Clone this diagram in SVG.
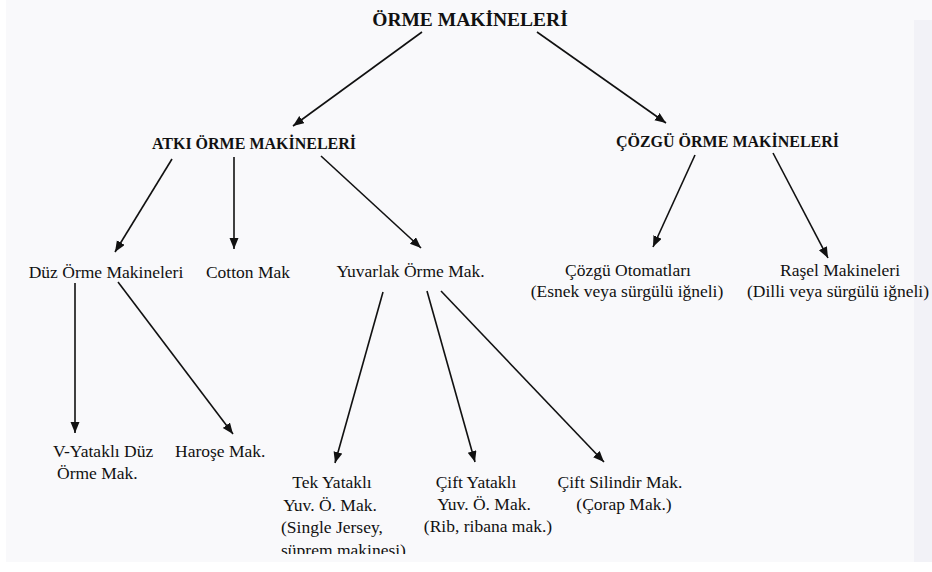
<svg xmlns="http://www.w3.org/2000/svg" width="932" height="572" viewBox="0 0 932 572">
  <style>
    .t { font-family: 'Liberation Serif', 'Tinos', 'DejaVu Serif', serif; fill: #111; }
    .h { font-weight: bold; }
    .r { font-size: 17.5px; }
    .c { text-anchor: middle; }
    .ln { stroke: #111; stroke-width: 1.6; fill: none; marker-end: url(#ah); }
  </style>
  <defs>
    <marker id="ah" markerUnits="userSpaceOnUse" markerWidth="12" markerHeight="10" refX="11" refY="4.5" orient="auto">
      <path d="M0,0 L11,4.5 L0,9 z" fill="#111"/>
    </marker>
    <clipPath id="cut"><rect x="0" y="0" width="932" height="554"/></clipPath>
  </defs>
  <rect x="0" y="0" width="932" height="572" fill="#ffffff"/>
  <rect x="6" y="0" width="926" height="562" fill="#f9f9fb"/>
  <rect x="914" y="20" width="18" height="542" fill="#f2f2f7"/>

  <g id="n-orme"><text class="t h c" x="470" y="26" font-size="19.5">ÖRME MAKİNELERİ</text></g>
  <g id="n-atki"><text class="t h c" x="254" y="149" font-size="16">ATKI ÖRME MAKİNELERİ</text></g>
  <g id="n-cozgu"><text class="t h c" x="727.5" y="147" font-size="16">ÇÖZGÜ ÖRME MAKİNELERİ</text></g>

  <g id="n-duz"><text class="t r c" x="106" y="278">Düz Örme Makineleri</text></g>
  <g id="n-cotton"><text class="t r c" x="248" y="278">Cotton Mak</text></g>
  <g id="n-yuvarlak"><text class="t r c" x="410.5" y="277">Yuvarlak Örme Mak.</text></g>
  <g id="n-otomat">
    <text class="t r c" x="628" y="276">Çözgü Otomatları</text>
    <text class="t r c" x="627" y="297">(Esnek veya sürgülü iğneli)</text>
  </g>
  <g id="n-rasel">
    <text class="t r c" x="840" y="276">Raşel Makineleri</text>
    <text class="t r c" x="838" y="297">(Dilli veya sürgülü iğneli)</text>
  </g>

  <g id="n-vyatakli">
    <text class="t r" x="53" y="457">V-Yataklı Düz</text>
    <text class="t r" x="57" y="479">Örme Mak.</text>
  </g>
  <g id="n-harose"><text class="t r" x="175" y="457">Haroşe Mak.</text></g>
  <g id="n-tek" clip-path="url(#cut)">
    <text class="t r c" x="332" y="488">Tek Yataklı</text>
    <text class="t r c" x="330" y="511">Yuv. Ö. Mak.</text>
    <text class="t r" x="281" y="533">(Single Jersey,</text>
    <text class="t r" x="281" y="556">süprem makinesi)</text>
  </g>
  <g id="n-cift">
    <text class="t r c" x="476" y="488">Çift Yataklı</text>
    <text class="t r c" x="484" y="510">Yuv. Ö. Mak.</text>
    <text class="t r c" x="488" y="532">(Rib, ribana mak.)</text>
  </g>
  <g id="n-silindir">
    <text class="t r c" x="620" y="488">Çift Silindir Mak.</text>
    <text class="t r c" x="624" y="510">(Çorap Mak.)</text>
  </g>

  <g id="connectors">
    <line class="ln" x1="422" y1="32" x2="293" y2="126"/>
    <line class="ln" x1="537" y1="32" x2="666" y2="123"/>
    <line class="ln" x1="172" y1="159" x2="115" y2="252"/>
    <line class="ln" x1="234" y1="157" x2="234" y2="249"/>
    <line class="ln" x1="321" y1="156" x2="421" y2="248"/>
    <line class="ln" x1="695" y1="155" x2="653" y2="247"/>
    <line class="ln" x1="773" y1="153" x2="828" y2="258"/>
    <line class="ln" x1="75" y1="283" x2="75" y2="433"/>
    <line class="ln" x1="118" y1="282" x2="233" y2="434"/>
    <line class="ln" x1="383" y1="292" x2="335" y2="463"/>
    <line class="ln" x1="427" y1="291" x2="475" y2="462"/>
    <line class="ln" x1="441" y1="291" x2="604" y2="462"/>
  </g>
</svg>
